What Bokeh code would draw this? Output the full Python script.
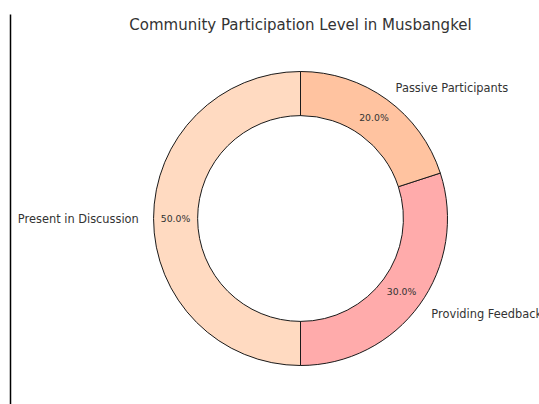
import numpy as np
from bokeh.plotting import figure
from bokeh.models import Range1d, ColumnDataSource
from bokeh.embed import file_html
from bokeh.resources import INLINE
from bokeh.core.properties import value

title = "Community Participation Level in Musbangkel"
categories = ["Present in Discussion", "Providing Feedback", "Passive Participants"]
values = [50, 30, 20]
colors = ["#FFDAC1", "#FFABAB", "#FFC3A0"]

W, H = 539, 404
cx, cy = 300, 218  # donut centre in canvas pixels (from top-left)
R = 147.0
r_in = R * 0.7

p = figure(width=W, height=H, output_backend="svg", toolbar_location=None,
           x_range=Range1d(-cx, W - cx), y_range=Range1d(-(H - cy), cy),
           min_border=0, outline_line_color=None)
p.axis.visible = False
p.grid.visible = False
p.background_fill_color = "white"

vals = np.array(values, dtype=float)
frac = vals / vals.sum()
cum = np.concatenate([[0], np.cumsum(frac)])
start = np.pi / 2 + 2 * np.pi * cum[:-1]
end = np.pi / 2 + 2 * np.pi * cum[1:]
mid = (start + end) / 2

src = ColumnDataSource(dict(start=start, end=end, color=colors))
p.annular_wedge(x=0, y=0, inner_radius=r_in, outer_radius=R,
                start_angle="start", end_angle="end", fill_color="color",
                line_color="#1a1a1a", line_width=1, source=src)

font = value("DejaVu Sans")
for i, cat in enumerate(categories):
    lx = 1.1 * R * np.cos(mid[i])
    ly = 1.1 * R * np.sin(mid[i])
    align = "left" if lx > 0 else "right"
    p.text(x=[lx], y=[ly], text=[cat], text_font=font, text_font_size="11.4px",
           text_align=align, text_baseline="middle", text_color="#333333")
    px_ = 0.85 * R * np.cos(mid[i])
    py_ = 0.85 * R * np.sin(mid[i])
    p.text(x=[px_], y=[py_], text=["%.1f%%" % (frac[i] * 100)], text_font=font,
           text_font_size="9.3px", text_align="center", text_baseline="middle",
           text_color="#333333")

p.text(x=[0], y=[cy - 24], text=[title], text_font=font, text_font_size="15px",
       text_align="center", text_baseline="middle", text_color="#333333")

# vertical rule on the left edge
p.line(x=[-cx + 10, -cx + 10], y=[cy - 14, -(H - cy)], line_color="black", line_width=1.5)

open("out.html", "w").write(file_html(p, INLINE))
